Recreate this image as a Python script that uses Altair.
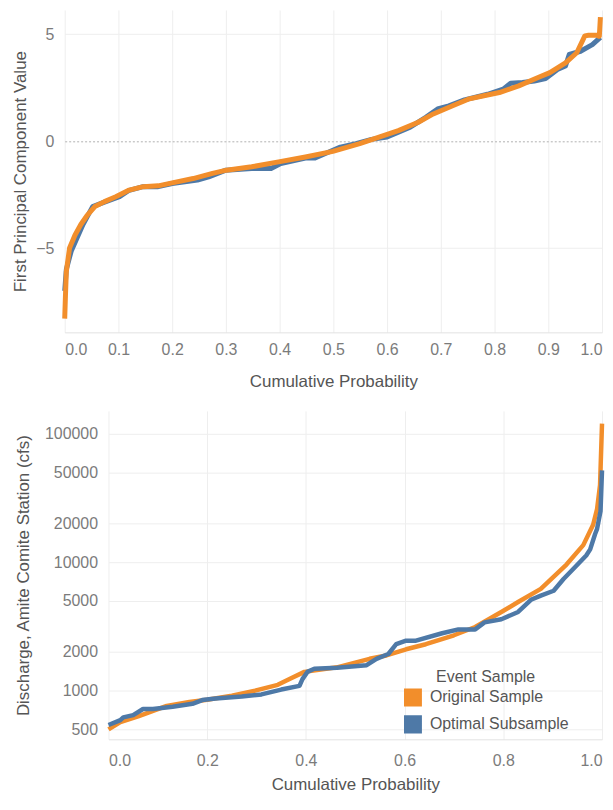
import altair as alt
import pandas as pd

# ---------------- data ----------------
series_names = ["Original Sample", "Optimal Subsample"]
series_colors = ["#F28E2B", "#4E79A7"]

# Top panel: first principal component value vs cumulative probability
pc_orig_p = [0.0, 0.0014, 0.003, 0.009, 0.019, 0.030, 0.041, 0.056, 0.074, 0.095,
             0.120, 0.146, 0.174, 0.200, 0.239, 0.275, 0.301, 0.348, 0.398, 0.448,
             0.499, 0.549, 0.585, 0.621, 0.658, 0.686, 0.722, 0.751, 0.780, 0.809,
             0.845, 0.881, 0.903, 0.932, 0.953, 0.968, 0.975, 0.989, 0.995, 0.997]
pc_orig_v = [-8.3, -7.2, -6.1, -5.0, -4.4, -3.9, -3.5, -3.06, -2.83, -2.6,
             -2.29, -2.13, -2.09, -1.95, -1.75, -1.51, -1.36, -1.2, -0.97, -0.74,
             -0.48, -0.12, 0.19, 0.49, 0.88, 1.27, 1.65, 1.96, 2.12, 2.27,
             2.58, 2.97, 3.2, 3.66, 4.13, 4.92, 4.95, 4.95, 4.9, 5.8]

pc_opt_p = [0.0, 0.003, 0.012, 0.034, 0.052, 0.074, 0.102, 0.12, 0.146, 0.174,
            0.2, 0.247, 0.268, 0.3, 0.348, 0.384, 0.402, 0.448, 0.466, 0.513,
            0.542, 0.571, 0.6, 0.621, 0.643, 0.672, 0.694, 0.715, 0.744, 0.787,
            0.816, 0.83, 0.852, 0.874, 0.895, 0.917, 0.932, 0.939, 0.96, 0.982, 0.997]
pc_opt_v = [-7.0, -6.0, -5.15, -3.9, -3.06, -2.85, -2.6, -2.3, -2.13, -2.13,
            -1.98, -1.82, -1.67, -1.36, -1.28, -1.28, -1.05, -0.79, -0.79, -0.28,
            -0.12, 0.08, 0.19, 0.42, 0.65, 1.11, 1.5, 1.65, 1.93, 2.19,
            2.43, 2.7, 2.74, 2.81, 2.92, 3.35, 3.51, 4.05, 4.2, 4.51, 4.85]

# Bottom panel: discharge (cfs) vs cumulative probability
q_orig_p = [0.0, 0.024, 0.06, 0.118, 0.164, 0.2, 0.25, 0.297, 0.343, 0.37,
            0.397, 0.463, 0.529, 0.563, 0.603, 0.643, 0.7, 0.743, 0.796, 0.83,
            0.876, 0.928, 0.962, 0.982, 0.99, 0.996, 1.0]
q_orig_v = [500, 570, 630, 760, 815, 850, 915, 1000, 1110, 1250,
            1400, 1520, 1770, 1880, 2100, 2300, 2700, 3130, 4100, 4900,
            6200, 9600, 13600, 19600, 26000, 40000, 120000]

q_opt_p = [0.0, 0.024, 0.03, 0.05, 0.07, 0.09, 0.13, 0.17, 0.19, 0.217,
           0.27, 0.31, 0.35, 0.387, 0.393, 0.403, 0.417, 0.463, 0.523, 0.543,
           0.567, 0.583, 0.603, 0.623, 0.676, 0.709, 0.743, 0.762, 0.796, 0.83,
           0.856, 0.876, 0.902, 0.922, 0.948, 0.968, 0.976, 0.986, 0.99, 0.997, 1.0]
q_opt_v = [540, 590, 620, 645, 720, 720, 750, 790, 845, 870,
           900, 935, 1020, 1090, 1230, 1400, 1480, 1510, 1580, 1770,
           1930, 2300, 2450, 2450, 2800, 3000, 3000, 3400, 3600, 4100,
           5100, 5500, 6000, 7400, 9400, 11300, 12600, 16600, 18200, 25000, 52000]

top_x_ticks = [0.0, 0.1, 0.2, 0.3, 0.4, 0.5, 0.6, 0.7, 0.8, 0.9, 1.0]
top_y_ticks = [-5, 0, 5]
bottom_x_ticks = [0.0, 0.2, 0.4, 0.6, 0.8, 1.0]
bottom_y_ticks = [500, 1000, 2000, 5000, 10000, 20000, 50000, 100000]


def frame(p, v, name):
    return pd.DataFrame({"p": p, "v": v, "sample": name, "order": list(range(len(p)))})


FONT = "Arial, Liberation Sans, sans-serif"
LABEL_COLOR = "#7b7b7b"
TITLE_COLOR = "#555555"
GRID = "#eeeeee"

# filled square swatch drawn as closely packed horizontal strokes (legend of line marks)
SWATCH = "".join("M-1,%.1fH1" % y for y in [-0.9, -0.7, -0.5, -0.3, -0.1, 0.1, 0.3, 0.5, 0.7, 0.9])

color_scale = alt.Scale(domain=series_names, range=series_colors)

TOP_W = 540          # top plot width
BOT_SHIFT = 44       # bottom plot starts this far to the right of the top plot
BOT_W = 496          # bottom plot width

# ---------------- top panel ----------------
top_x = alt.X(
    "p:Q",
    title="Cumulative Probability",
    scale=alt.Scale(domain=[0, 1], nice=False),
    axis=alt.Axis(values=top_x_ticks, format=".1f", labelFlush=True,
                  labelPadding=9, titlePadding=16),
)
top_y = alt.Y(
    "v:Q",
    title="First Principal Component Value",
    scale=alt.Scale(domain=[-8.94, 6.13], nice=False, zero=False),
    axis=alt.Axis(values=top_y_ticks, format="d", labelPadding=11, titlePadding=6,
                  domain=False,
                  gridDash=alt.condition("datum.value === 0", alt.value([2, 2]), alt.value([])),
                  gridColor=alt.condition("datum.value === 0", alt.value("#b0b0b0"), alt.value(GRID))),
)


def top_line(df):
    return alt.Chart(df).mark_line(strokeWidth=5, strokeJoin="round").encode(
        x=top_x, y=top_y, order="order:Q",
        color=alt.Color("sample:N", scale=color_scale, legend=None),
    )


top = alt.layer(
    top_line(frame(pc_opt_p, pc_opt_v, series_names[1])),
    top_line(frame(pc_orig_p, pc_orig_v, series_names[0])),
).properties(width=TOP_W, height=324)

# ---------------- bottom panel ----------------
bot_x = alt.X(
    "p:Q",
    title="Cumulative Probability",
    scale=alt.Scale(domain=[0, 1], nice=False, range=[BOT_SHIFT, BOT_SHIFT + BOT_W]),
    axis=alt.Axis(values=bottom_x_ticks, format=".1f", labelFlush=True,
                  labelPadding=13, titlePadding=8),
)
bot_y = alt.Y(
    "v:Q",
    title="Discharge, Amite Comite Station (cfs)",
    scale=alt.Scale(type="log", domain=[418, 150800], nice=False),
    axis=alt.Axis(values=bottom_y_ticks, format="d", labelPadding=11, titlePadding=12,
                  domain=False, offset=-BOT_SHIFT),
)

legend = alt.Legend(title="Event Sample", orient="none",
                    legendX=BOT_SHIFT + 296, legendY=259,
                    symbolType=SWATCH, symbolSize=324, symbolStrokeWidth=2,
                    symbolOpacity=1, labelFontSize=16, titleFontSize=16,
                    titleFontWeight="normal", titleColor=TITLE_COLOR,
                    labelColor=TITLE_COLOR, labelFont=FONT, titleFont=FONT,
                    titleAnchor="middle", titlePadding=3, rowPadding=1,
                    labelOffset=7)


def bot_line(df):
    return alt.Chart(df).mark_line(strokeWidth=4.5, strokeJoin="round").encode(
        x=bot_x, y=bot_y, order="order:Q",
        color=alt.Color("sample:N", scale=color_scale, legend=legend),
    )


bottom = alt.layer(
    bot_line(frame(q_orig_p, q_orig_v, series_names[0])),
    bot_line(frame(q_opt_p, q_opt_v, series_names[1])),
).properties(width=BOT_SHIFT + BOT_W, height=330)

chart = alt.vconcat(top, bottom, spacing=22).resolve_scale(
    color="independent"
).resolve_legend(color="independent").properties(
    padding={"left": 3, "top": 0, "right": 0, "bottom": 0}
).configure_view(stroke=None).configure_axis(
    labelFont=FONT, labelFontSize=16, labelColor=LABEL_COLOR,
    titleFont=FONT, titleFontSize=17, titleColor=TITLE_COLOR, titleFontWeight="normal",
    gridColor=GRID, ticks=False, domainColor="#e2e2e2",
)

chart.save("out.html", embed_options={"renderer": "svg", "actions": False})
